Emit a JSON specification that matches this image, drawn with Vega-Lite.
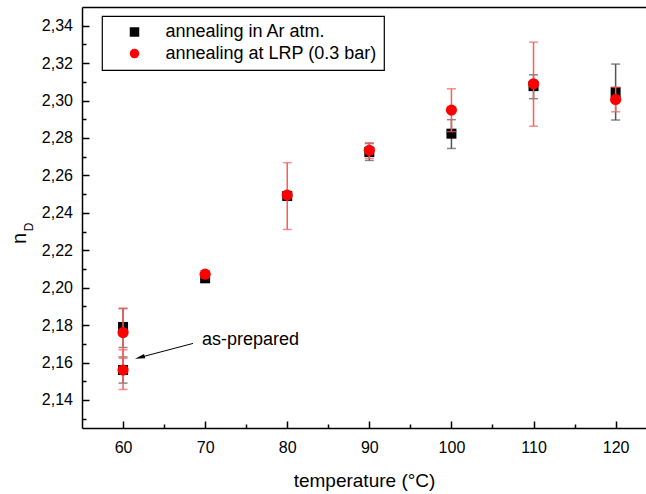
{
  "$schema": "https://vega.github.io/schema/vega-lite/v6.json",
  "width": 564,
  "height": 421,
  "autosize": {"type": "none"},
  "padding": {"left": 82, "top": 7, "right": 0, "bottom": 66},
  "config": {
    "view": {"stroke": null},
    "font": "Liberation Sans",
    "axis": {"grid": false, "labelColor": "black", "titleColor": "black", "domainColor": "black", "tickColor": "black", "domainWidth": 1.5, "tickWidth": 1.5, "labelFont": "Liberation Sans", "titleFont": "Liberation Sans", "titleFontWeight": "normal"},
    "legend": {"strokeWidth": 1.2},
    "text": {"font": "Liberation Sans"}
  },
  "datasets": {
    "pts": [
      {"temp": 60, "series": "annealing in Ar atm.", "n": 2.179, "lo": 2.168, "hi": 2.1888},
      {"temp": 60, "series": "annealing in Ar atm.", "n": 2.156, "lo": 2.149, "hi": 2.163},
      {"temp": 70, "series": "annealing in Ar atm.", "n": 2.205, "lo": 2.203, "hi": 2.207},
      {"temp": 80, "series": "annealing in Ar atm.", "n": 2.249, "lo": 2.247, "hi": 2.251},
      {"temp": 90, "series": "annealing in Ar atm.", "n": 2.2725, "lo": 2.268, "hi": 2.277},
      {"temp": 100, "series": "annealing in Ar atm.", "n": 2.2823, "lo": 2.2744, "hi": 2.2898},
      {"temp": 110, "series": "annealing in Ar atm.", "n": 2.3077, "lo": 2.301, "hi": 2.3138},
      {"temp": 120, "series": "annealing in Ar atm.", "n": 2.3045, "lo": 2.2896, "hi": 2.3195},
      {"temp": 60, "series": "annealing at LRP (0.3 bar)", "n": 2.176, "lo": 2.1622, "hi": 2.189},
      {"temp": 60, "series": "annealing at LRP (0.3 bar)", "n": 2.156, "lo": 2.1456, "hi": 2.1668},
      {"temp": 70, "series": "annealing at LRP (0.3 bar)", "n": 2.2072, "lo": 2.2055, "hi": 2.209},
      {"temp": 80, "series": "annealing at LRP (0.3 bar)", "n": 2.2495, "lo": 2.2311, "hi": 2.2668},
      {"temp": 90, "series": "annealing at LRP (0.3 bar)", "n": 2.2734, "lo": 2.2691, "hi": 2.2775},
      {"temp": 100, "series": "annealing at LRP (0.3 bar)", "n": 2.2949, "lo": 2.2834, "hi": 2.3063},
      {"temp": 110, "series": "annealing at LRP (0.3 bar)", "n": 2.309, "lo": 2.2863, "hi": 2.3312},
      {"temp": 120, "series": "annealing at LRP (0.3 bar)", "n": 2.3006, "lo": 2.294, "hi": 2.3072}
    ]
  },
  "resolve": {"axis": {"x": "independent", "y": "independent"}},
  "layer": [
    {
      "data": {"name": "pts"},
      "transform": [{"filter": "datum.series === 'annealing in Ar atm.'"}],
      "mark": {"type": "errorbar", "ticks": {"color": "#555555"}, "rule": {"color": "#555555"}, "size": 9, "thickness": 1.5},
      "encoding": {
        "x": {"field": "temp", "type": "quantitative", "scale": {"domain": [55, 123.7], "nice": false, "zero": false},
          "axis": {"orient": "bottom", "values": [60, 70, 80, 90, 100, 110, 120], "format": "d", "tickSize": -7, "labelPadding": 18, "labelFontSize": 16, "labelFlush": false, "labelOverlap": false, "title": "temperature (°C)", "titleFontSize": 19, "titleY": 52, "titleBaseline": "middle"}},
        "y": {"field": "lo", "type": "quantitative", "scale": {"domain": [2.125, 2.35], "nice": false, "zero": false},
          "axis": {"orient": "left", "values": [2.14, 2.16, 2.18, 2.2, 2.22, 2.24, 2.26, 2.28, 2.3, 2.32, 2.34], "labelExpr": "replace(format(datum.value, '.2f'), '.', ',')", "tickSize": -7, "labelPadding": 16.5, "labelFontSize": 16, "labelFlush": false, "labelOverlap": false, "title": "n", "titleFontSize": 20, "titleAngle": 270, "titleX": -63, "titleY": 231, "titleAlign": "center", "titleBaseline": "middle"}},
        "y2": {"field": "hi"}
      }
    },
    {
      "data": {"name": "pts"},
      "transform": [{"filter": "datum.series === 'annealing in Ar atm.'"}],
      "mark": {"type": "point", "filled": true, "opacity": 1, "strokeWidth": 0, "size": 100},
      "encoding": {
        "x": {"field": "temp", "type": "quantitative", "scale": {"domain": [55, 123.7], "nice": false, "zero": false}, "axis": null},
        "y": {"field": "n", "type": "quantitative", "scale": {"domain": [2.125, 2.35], "nice": false, "zero": false}, "axis": null},
        "color": {"field": "series", "type": "nominal", "scale": {"domain": ["annealing in Ar atm.", "annealing at LRP (0.3 bar)"], "range": ["black", "red"]},
          "legend": {"title": null, "orient": "none", "legendX": 20, "legendY": 9, "strokeColor": "black", "fillColor": "white", "padding": 7, "labelFontSize": 18, "labelFont": "Liberation Sans", "labelColor": "black", "symbolSize": 90, "symbolOffset": 16.5, "labelOffset": 22, "rowPadding": 3.6, "symbolStrokeWidth": 0, "labelLimit": 400}},
        "shape": {"field": "series", "type": "nominal", "scale": {"domain": ["annealing in Ar atm.", "annealing at LRP (0.3 bar)"], "range": ["square", "circle"]},
          "legend": {"title": null, "orient": "none", "legendX": 20, "legendY": 9, "strokeColor": "black", "fillColor": "white", "padding": 7, "labelFontSize": 18, "labelFont": "Liberation Sans", "labelColor": "black", "symbolSize": 90, "symbolOffset": 16.5, "labelOffset": 22, "rowPadding": 3.6, "symbolStrokeWidth": 0, "labelLimit": 400}}
      }
    },
    {
      "data": {"name": "pts"},
      "transform": [{"filter": "datum.series === 'annealing at LRP (0.3 bar)'"}],
      "mark": {"type": "errorbar", "ticks": {"color": "#ff5a5a"}, "rule": {"color": "#ff5a5a"}, "size": 9, "thickness": 1.5},
      "encoding": {
        "x": {"field": "temp", "type": "quantitative", "scale": {"domain": [55, 123.7], "nice": false, "zero": false}, "axis": null},
        "y": {"field": "lo", "type": "quantitative", "scale": {"domain": [2.125, 2.35], "nice": false, "zero": false}, "axis": null},
        "y2": {"field": "hi"}
      }
    },
    {
      "data": {"name": "pts"},
      "transform": [{"filter": "datum.series === 'annealing at LRP (0.3 bar)'"}],
      "mark": {"type": "point", "filled": true, "opacity": 1, "strokeWidth": 0, "size": 125},
      "encoding": {
        "x": {"field": "temp", "type": "quantitative", "scale": {"domain": [55, 123.7], "nice": false, "zero": false}, "axis": null},
        "y": {"field": "n", "type": "quantitative", "scale": {"domain": [2.125, 2.35], "nice": false, "zero": false}, "axis": null},
        "color": {"field": "series", "type": "nominal", "scale": {"domain": ["annealing in Ar atm.", "annealing at LRP (0.3 bar)"], "range": ["black", "red"]},
          "legend": {"title": null, "orient": "none", "legendX": 20, "legendY": 9, "strokeColor": "black", "fillColor": "white", "padding": 7, "labelFontSize": 18, "labelFont": "Liberation Sans", "labelColor": "black", "symbolSize": 90, "symbolOffset": 16.5, "labelOffset": 22, "rowPadding": 3.6, "symbolStrokeWidth": 0, "labelLimit": 400}},
        "shape": {"field": "series", "type": "nominal", "scale": {"domain": ["annealing in Ar atm.", "annealing at LRP (0.3 bar)"], "range": ["square", "circle"]},
          "legend": {"title": null, "orient": "none", "legendX": 20, "legendY": 9, "strokeColor": "black", "fillColor": "white", "padding": 7, "labelFontSize": 18, "labelFont": "Liberation Sans", "labelColor": "black", "symbolSize": 90, "symbolOffset": 16.5, "labelOffset": 22, "rowPadding": 3.6, "symbolStrokeWidth": 0, "labelLimit": 400}}
      }
    },
    {
      "data": {"values": [{"x": 68.52, "y": 2.1702, "x2": 62.04, "y2": 2.1627}]},
      "mark": {"type": "rule", "color": "black", "strokeWidth": 1},
      "encoding": {
        "x": {"field": "x", "type": "quantitative", "scale": {"domain": [55, 123.7], "nice": false, "zero": false}, "axis": null},
        "y": {"field": "y", "type": "quantitative", "scale": {"domain": [2.125, 2.35], "nice": false, "zero": false}, "axis": null},
        "x2": {"field": "x2"},
        "y2": {"field": "y2"}
      }
    },
    {
      "data": {"values": [{"x": 62.04, "y": 2.1627}]},
      "mark": {"type": "point", "shape": "M-1,0L1,-0.45L1,0.45Z", "filled": true, "color": "black", "opacity": 1, "size": 100, "angle": 345.2, "strokeWidth": 0},
      "encoding": {
        "x": {"field": "x", "type": "quantitative", "scale": {"domain": [55, 123.7], "nice": false, "zero": false}, "axis": null},
        "y": {"field": "y", "type": "quantitative", "scale": {"domain": [2.125, 2.35], "nice": false, "zero": false}, "axis": null}
      }
    },
    {
      "data": {"values": [{"x": 69.62, "y": 2.172, "label": "as-prepared"}]},
      "mark": {"type": "text", "align": "left", "baseline": "middle", "fontSize": 18, "color": "black"},
      "encoding": {
        "x": {"field": "x", "type": "quantitative", "scale": {"domain": [55, 123.7], "nice": false, "zero": false}, "axis": null},
        "y": {"field": "y", "type": "quantitative", "scale": {"domain": [2.125, 2.35], "nice": false, "zero": false}, "axis": null},
        "text": {"field": "label"}
      }
    },
    {
      "data": {"values": [{"x": 48.57, "y": 2.2325, "label": "D"}]},
      "mark": {"type": "text", "align": "center", "baseline": "middle", "fontSize": 12, "angle": 270, "color": "black"},
      "encoding": {
        "x": {"field": "x", "type": "quantitative", "scale": {"domain": [55, 123.7], "nice": false, "zero": false}, "axis": null},
        "y": {"field": "y", "type": "quantitative", "scale": {"domain": [2.125, 2.35], "nice": false, "zero": false}, "axis": null},
        "text": {"field": "label"}
      }
    },
    {
      "data": {"name": "pts"},
      "mark": {"type": "point", "opacity": 0},
      "encoding": {
        "x": {"field": "temp", "type": "quantitative", "scale": {"domain": [55, 123.7], "nice": false, "zero": false},
          "axis": {"orient": "bottom", "values": [65, 75, 85, 95, 105, 115], "tickSize": -4, "labels": false, "domain": false, "title": null}},
        "y": {"field": "n", "type": "quantitative", "scale": {"domain": [2.125, 2.35], "nice": false, "zero": false},
          "axis": {"orient": "left", "values": [2.13, 2.15, 2.17, 2.19, 2.21, 2.23, 2.25, 2.27, 2.29, 2.31, 2.33], "tickSize": -4, "labels": false, "domain": false, "title": null}}
      }
    },
    {
      "data": {"name": "pts"},
      "mark": {"type": "point", "opacity": 0},
      "encoding": {
        "x": {"field": "temp", "type": "quantitative", "scale": {"domain": [55, 123.7], "nice": false, "zero": false},
          "axis": {"orient": "top", "ticks": false, "labels": false, "domain": true, "title": null}},
        "y": {"field": "n", "type": "quantitative", "scale": {"domain": [2.125, 2.35], "nice": false, "zero": false}, "axis": null}
      }
    }
  ]
}
